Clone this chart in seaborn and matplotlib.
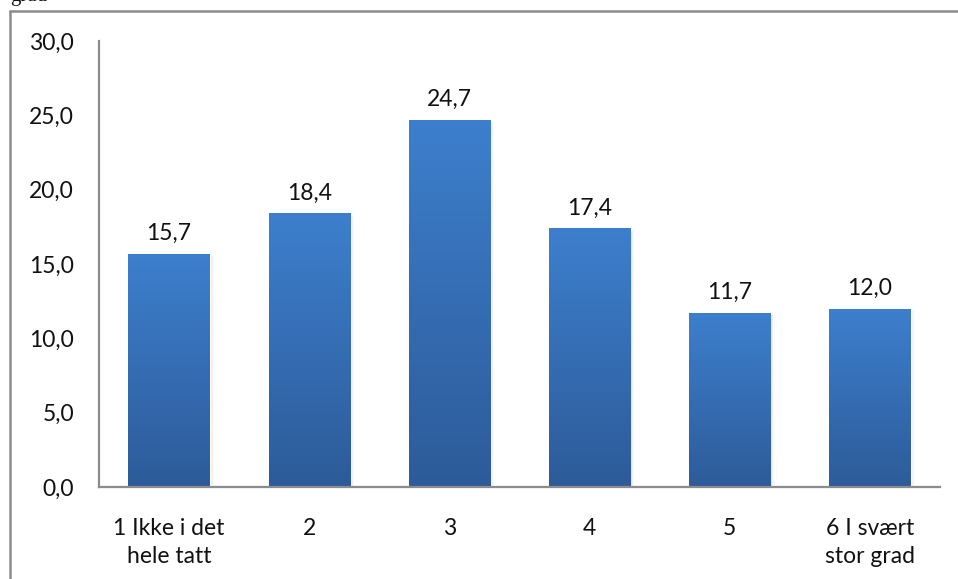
import numpy as np
import pandas as pd
import matplotlib
matplotlib.use("Agg")
import matplotlib.pyplot as plt
from matplotlib.colors import LinearSegmentedColormap
from matplotlib.lines import Line2D
import seaborn as sns

categories = ["1 Ikke i det\nhele tatt", "2", "3", "4", "5", "6 I svært\nstor grad"]
values = [15.7, 18.4, 24.7, 17.4, 11.7, 12.0]
value_labels = ["15,7", "18,4", "24,7", "17,4", "11,7", "12,0"]
yticks = [0, 5, 10, 15, 20, 25, 30]
ytick_labels = ["0,0", "5,0", "10,0", "15,0", "20,0", "25,0", "30,0"]

sns.set_theme(style="white")
plt.rcParams["font.family"] = ["Lato", "DejaVu Sans"]

W, H = 958, 579
FS = 16.5
fig = plt.figure(figsize=(W / 100, H / 100), dpi=100)
ax = fig.add_axes([99 / W, 1 - 487 / H, (940 - 99) / W, (487 - 41) / H])

df = pd.DataFrame({"kategori": categories, "prosent": values})
sns.barplot(data=df, x="kategori", y="prosent", ax=ax, color="#3670BA",
            width=0.58, saturation=1, zorder=2)

top_col = "#3D7FCD"
bot_col = "#2D5B99"
cmap = LinearSegmentedColormap.from_list("bargrad", [bot_col, top_col])
grad = np.linspace(0, 1, 256).reshape(-1, 1)

for patch, lab in zip(ax.patches, value_labels):
    x0, y0 = patch.get_x(), patch.get_y()
    w, h = patch.get_width(), patch.get_height()
    # soft drop shadow to the right of each bar
    for i, a in enumerate([0.07, 0.04, 0.02]):
        ax.add_patch(plt.Rectangle((x0 + w, y0), 0.01 * (i + 1), h - 0.15,
                                   facecolor="black", alpha=a, lw=0, zorder=1))
    im = ax.imshow(grad, cmap=cmap, origin="lower", aspect="auto",
                   extent=(x0, x0 + w, y0, y0 + h), zorder=3)
    im.set_clip_path(patch)
    ax.annotate(lab, (x0 + w / 2, y0 + h), xytext=(0, 7), textcoords="offset points",
                ha="center", va="bottom", fontsize=FS, color="#111111", zorder=4)

ax.set_xlim(-0.5, len(categories) - 0.5)
ax.set_ylim(0, 30)
ax.set_yticks(yticks)
ax.set_yticklabels(ytick_labels)
ax.set_xlabel("")
ax.set_ylabel("")
ax.tick_params(axis="both", length=0, labelsize=FS, colors="#111111")
ax.tick_params(axis="y", pad=18)
ax.tick_params(axis="x", pad=22)
for t in ax.get_xticklabels():
    t.set_linespacing(1.45)

for s in ["top", "right"]:
    ax.spines[s].set_visible(False)
for s in ["left", "bottom"]:
    ax.spines[s].set_color("#8C8C8C")
    ax.spines[s].set_linewidth(1.6)
    ax.spines[s].set_zorder(5)

# outer frame of the chart area
fig.add_artist(Line2D([9.5 / W, 1.0], [1 - 10.5 / H, 1 - 10.5 / H], color="#8C8C8C", lw=1.8,
                      transform=fig.transFigure))
fig.add_artist(Line2D([9.5 / W, 9.5 / W], [1 - 10.5 / H, 0.0], color="#8C8C8C", lw=1.8,
                      transform=fig.transFigure))

# tail end of the preceding line of text
fig.text(10 / W, 1 - 1.5 / H, "grad", family=["Liberation Serif", "DejaVu Serif"],
         fontsize=15, va="baseline", ha="left", color="#111111")

fig.savefig("out.png", dpi=100)
